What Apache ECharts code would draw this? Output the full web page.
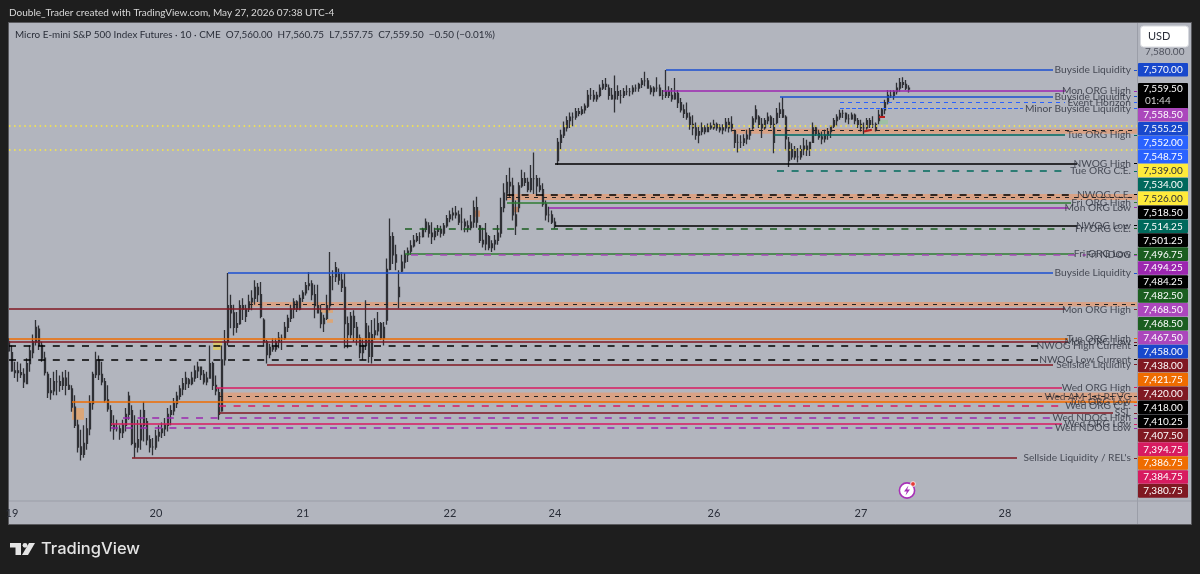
<!DOCTYPE html>
<html>
<head>
<meta charset="utf-8">
<title>MES1! 10m</title>
<style>
  html, body { margin: 0; padding: 0; background: #1e1e1e; }
  #chart { width: 1200px; height: 574px; }
</style>
<script src="https://cdn.jsdelivr.net/npm/echarts@6/dist/echarts.min.js"></script>
</head>
<body>
<div id="chart"></div>
<script>
// 10 minute bars
const opens = [
  7420,7414,7403,7404,7403,7402,7397,7408,7414,7420,
  7427,7418,7411,7402,7392,7393,7398,7398,7396,7400,
  7396,7394,7384,7374,7362,7358,7364,7372,7386,7402,
  7410,7402,7398,7388,7382,7374,7372,7372,7370,7374,
  7380,7382,7364,7362,7366,7374,7376,7366,7362,7362,
  7368,7370,7372,7374,7380,7382,7386,7390,7394,7397,
  7399,7397,7400,7404,7406,7402,7398,7400,7408,7396,
  7392,7382,7410,7420,7440,7436,7428,7430,7440,7438,
  7438,7442,7444,7450,7446,7432,7420,7413,7417,7416,
  7420,7422,7422,7428,7433,7438,7442,7438,7444,7447,
  7451,7452,7446,7440,7436,7430,7433,7440,7456,7456,
  7458,7454,7450,7430,7424,7434,7428,7422,7414,7418,
  7425,7412,7424,7426,7430,7422,7432,7460,7478,7468,
  7450,7459,7464,7468,7470,7473,7476,7478,7478,7482,
  7484,7480,7478,7481,7482,7480,7484,7488,7490,7491,
  7490,7486,7486,7484,7483,7486,7494,7484,7476,7474,
  7478,7472,7474,7476,7480,7494,7502,7508,7506,7490,
  7494,7506,7510,7508,7504,7510,7510,7506,7504,7496,
  7490,7490,7486,7520,7530,7534,7538,7542,7544,7544,
  7547,7546,7548,7550,7556,7556,7554,7556,7560,7562,
  7560,7556,7554,7558,7556,7556,7558,7558,7558,7560,
  7560,7562,7564,7564,7560,7558,7560,7560,7556,7556,
  7558,7556,7554,7557,7552,7548,7546,7544,7540,7538,
  7534,7536,7538,7536,7539,7538,7540,7538,7537,7538,
  7541,7538,7536,7530,7530,7530,7532,7534,7538,7543,
  7544,7540,7538,7542,7544,7540,7541,7546,7548,7544,
  7530,7522,7526,7522,7522,7526,7528,7526,7530,7538,
  7535,7533,7532,7534,7536,7539,7542,7544,7546,7546,
  7543,7543,7545,7542,7540,7538,7538,7542,7540,7540,
  7542,7545,7548,7552,7556,7556,7558,7560,7563,7562,7560
];
const closes = [
  7415,7404,7404,7403,7402,7398,7408,7415,7420,7428,
  7418,7411,7403,7392,7393,7398,7398,7396,7400,7396,
  7394,7384,7374,7362,7358,7364,7372,7386,7402,7410,
  7402,7398,7388,7383,7374,7372,7372,7370,7374,7380,
  7390,7364,7362,7366,7374,7382,7366,7362,7362,7368,
  7370,7372,7374,7380,7382,7386,7390,7394,7397,7400,
  7397,7400,7404,7406,7402,7398,7400,7408,7396,7393,
  7380,7410,7420,7440,7436,7428,7430,7440,7438,7434,
  7442,7444,7450,7446,7434,7420,7413,7417,7416,7420,
  7422,7422,7428,7433,7438,7442,7438,7444,7447,7451,
  7452,7446,7440,7436,7430,7433,7440,7456,7456,7461,
  7454,7450,7430,7424,7434,7428,7422,7414,7418,7430,
  7412,7424,7426,7430,7422,7428,7460,7478,7468,7464,
  7445,7464,7468,7470,7473,7476,7478,7478,7482,7486,
  7480,7478,7481,7482,7480,7484,7488,7490,7491,7490,
  7486,7486,7484,7483,7486,7494,7486,7476,7474,7480,
  7472,7474,7476,7480,7494,7502,7508,7506,7490,7484,
  7506,7510,7508,7504,7510,7510,7506,7504,7496,7490,
  7490,7486,7484,7530,7534,7538,7542,7544,7544,7547,
  7546,7548,7550,7556,7556,7554,7556,7560,7562,7561,
  7556,7554,7558,7556,7556,7558,7558,7558,7560,7560,
  7562,7564,7564,7560,7558,7560,7560,7556,7556,7558,
  7556,7554,7557,7552,7548,7546,7544,7540,7538,7534,
  7536,7538,7536,7539,7538,7540,7538,7537,7538,7541,
  7538,7540,7530,7530,7530,7532,7534,7536,7543,7548,
  7540,7538,7542,7544,7540,7530,7546,7548,7544,7532,
  7520,7526,7522,7522,7526,7528,7526,7530,7538,7535,
  7533,7532,7534,7536,7539,7542,7544,7546,7546,7543,
  7543,7545,7542,7540,7538,7538,7542,7540,7540,7537,
  7545,7548,7552,7556,7556,7558,7560,7563,7562,7560,7559.5
];
const highs = [
  7422,7418,7409,7409,7408,7405.5,7411,7418,7424,7432,
  7429,7420,7414.5,7403.5,7400,7403.5,7404.5,7401.5,7403.5,7404.5,
  7403.5,7396,7390.5,7377,7371.5,7374,7378,7390.5,7403.5,7414.5,
  7412.5,7409,7400,7396,7385,7379.5,7377,7374,7377,7383.5,
  7392.5,7385,7379.5,7377,7382.5,7387,7378,7368.5,7367,7371.5,
  7374,7375.5,7378,7383.5,7385,7389,7392.5,7396,7400,7403.5,
  7400,7403.5,7407,7409,7405.5,7404.5,7403.5,7418,7409,7401.5,
  7394.5,7418,7426.5,7458,7446,7440.5,7436.5,7443,7444,7440.5,
  7446,7448.5,7454,7452.5,7453,7433,7421,7419,7422,7422,
  7425.5,7424,7431,7435,7440.5,7444,7443,7446,7448.5,7453,
  7458.5,7454,7451.5,7451.5,7440.5,7435,7446,7469.5,7459.5,7464,
  7460.5,7458.5,7458,7434,7436.5,7437.5,7431,7424,7422,7443,
  7429,7432,7433,7436.5,7431,7431,7466,7488,7480.5,7473.5,
  7459.5,7468,7470.5,7472,7476,7479,7480,7480.5,7483,7488,
  7486,7486,7483,7484.5,7484,7485.5,7490,7492.5,7494,7495,
  7492.5,7494,7488,7487,7490,7498,7500,7484.5,7483,7485.5,
  7479,7476,7479,7484.5,7499.5,7507.5,7512,7516,7510.5,7498,
  7508,7515,7513.5,7510.5,7517.5,7524.5,7512,7510.5,7507.5,7498,
  7494.5,7492.5,7488.5,7532.5,7537,7541.5,7544.5,7546.5,7546.5,7549,
  7549,7550,7551.5,7559,7560,7559,7558,7562,7564.5,7565.5,
  7562,7560,7567,7561.5,7559,7560,7561.5,7560,7561.5,7562,
  7563,7565.5,7569,7565.5,7561.5,7561,7566,7562,7559,7570,
  7561,7560,7565.5,7559,7554.5,7551,7552,7546.5,7545,7541,
  7539.5,7541,7539.5,7540.5,7541,7542.5,7541,7540,7540,7543.5,
  7543.5,7544.5,7537,7534.5,7534,7534.5,7537,7538,7544.5,7550.5,
  7545,7543.5,7543.5,7546.5,7545,7543.5,7549,7552,7555,7545,
  7533,7529.5,7528,7527,7528.5,7532.5,7531.5,7530,7541,7539.5,
  7537,7536,7537,7538,7539.5,7543.5,7545.5,7548,7548,7546.5,
  7545.5,7546.5,7546,7543.5,7542.5,7541,7543.5,7543.5,7544.5,7541,
  7548,7549,7553.5,7559,7559,7559,7563,7565.5,7566,7564.5,7561.5
];
const lows = [
  7414.5,7403.5,7400,7398,7400,7394.5,7399,7403.5,7411,7418,
  7415.5,7409,7401.5,7389,7388,7390.5,7390.5,7392.5,7393.5,7390.5,
  7393.5,7381.5,7372.5,7359,7354.5,7356,7360.5,7368.5,7382.5,7400,
  7399,7396,7386.5,7381.5,7370.5,7366,7370.5,7366,7367,7370.5,
  7377,7363,7356,7359,7360.5,7365,7363,7359,7357.5,7360.5,
  7365,7367,7368,7370.5,7374,7379.5,7383.5,7388,7390.5,7393.5,
  7394.5,7396,7398,7400,7399,7396.5,7396,7400,7393.5,7390.5,
  7377,7381.5,7407,7418,7427.5,7423.5,7425,7429.5,7432,7431,
  7436.5,7437.5,7440.5,7442,7433,7418,7408,7411,7414.5,7414.5,
  7416.5,7415.5,7421,7425.5,7431,7433,7436.5,7437.5,7442,7445.5,
  7448.5,7443,7433,7437.5,7427.5,7425.5,7432,7437.5,7448.5,7453,
  7451.5,7447.5,7416.5,7416.5,7422,7420,7418,7411,7410,7415.5,
  7408.5,7408,7421,7423.5,7421,7418,7429.5,7459.5,7463,7459.5,
  7438.5,7458.5,7460.5,7464,7468,7472,7475,7474,7477.5,7480.5,
  7477.5,7474,7476,7478.5,7477.5,7478.5,7483,7486,7487,7488,
  7484.5,7481.5,7480.5,7480.5,7481.5,7483,7483,7474.5,7472,7470.5,
  7470.5,7469.5,7470.5,7473.5,7477.5,7491.5,7498,7500,7487,7479,
  7491.5,7505,7506,7502.5,7502.5,7501.5,7500.5,7502.5,7494.5,7487,
  7486,7485,7482.5,7517.5,7526,7532.5,7536,7538,7539,7542.5,
  7544.5,7545,7546,7549,7553.5,7552.5,7552.5,7555,7559,7559,
  7553.5,7553.5,7546.5,7553.5,7551.5,7554.5,7556,7555.5,7556.5,7558,
  7558,7560,7561,7560,7556.5,7555.5,7558,7555.5,7553.5,7554.5,
  7554.5,7552.5,7553.5,7549,7546.5,7543.5,7542.5,7537,7534,7531.5,
  7529.5,7534,7534.5,7536,7537,7537,7536.5,7535.5,7534.5,7536,
  7535.5,7536,7527,7524.5,7527,7528,7529,7531.5,7537,7541,
  7538,7532.5,7537,7540,7538,7524,7540,7543.5,7543.5,7525.5,
  7516.5,7520.5,7520.5,7519,7520.5,7523,7522.5,7522.5,7530,7533.5,
  7531.5,7529,7530,7531.5,7532.5,7538,7539,7542.5,7543.5,7541,
  7540,7542.5,7540,7538,7536,7534.5,7537,7538,7538,7536,
  7540,7543.5,7545.5,7551,7554.5,7553.5,7556.5,7558,7560,7559,7557.5
];

// bar slots of the time axis and the day labels on it
const barCount = 377;
const dayBars = [1, 49, 98, 147, 182, 235, 284, 332];
const dayNames = ['19', '20', '21', '22', '24', '26', '27', '28'];

// drawn levels, from the first bar they start on to the bar where the text begins
const levelNames = ['Buyside Liquidity', 'Mon ORG High', 'Buyside Liquidity', 'Event Horizon', 'Minor Buyside Liquidity',
  'Tue ORG High', 'NWOG High', 'Tue ORG C.E.', 'NWOG C.E.', 'Fri ORG High', 'Mon ORG Low', 'NWOG Low', 'Fri ORG C.E.',
  'Fri ORG Low', 'Fri NDOG', 'Buyside Liquidity', 'Mon ORG High', 'Tue ORG High', 'Mon ORG Low', 'NWOG High Current',
  'NWOG Low Current', 'Sellside Liquidity', 'Wed ORG High', 'Wed AM 1st P.FVG', 'Tue ORG Low', 'Wed ORG C.E.', 'SSL',
  'Wed NDOG High', 'Wed ORG Low', 'Wed NDOG Low', "Sellside Liquidity / REL's"];
const levelPrices = [7570, 7558.5, 7555.25, 7552, 7548.75, 7534, 7518.5, 7514.25, 7501.25, 7496.75, 7494.25, 7484.25, 7482.5,
  7468.5, 7468, 7458, 7438, 7421.75, 7420, 7418, 7410.25, 7407.5, 7394.75, 7389.75, 7386.75, 7384.75, 7380.75,
  7378, 7374.75, 7372.5, 7356];
const levelStarts = [219, 218, 257, 277, 277, 255, 182, 256, 166, 166, 180, 182, 132, 132, 134, 73, 0, 0, 0, 0, 0, 86, 69, 348, 21, 70, 70, 38, 34, 34, 41];
const levelEnds = [348, 352, 348, 352, 338, 352, 356, 351, 354, 354, 353, 356, 352, 355, 359, 348, 352, 353, 353, 345, 345, 348, 351, 348, 376, 350, 368, 349, 351, 349, 336];
const levelColors = ['#1a4fd0', '#9c27b0', '#1a4fd0', '#2962ff', '#2962ff', '#00695c', '#000000', '#00695c', '#000000', '#2e7d32',
  '#9c27b0', '#000000', '#1b5e20', '#2e7d32', '#ab47bc', '#1a4fd0', '#801922', '#ef6c00', '#801922', '#000000', '#000000',
  '#801922', '#d81b60', '#222222', '#ef6c00', '#d81b60', '#801922', '#9c27b0', '#d81b60', '#9c27b0', '#801922'];
const levelDashed = [0, 0, 0, 1, 0, 0, 0, 1, 1, 0, 0, 0, 1, 0, 1, 0, 0, 0, 0, 1, 1, 0, 0, 1, 0, 1, 0, 1, 0, 1, 0];

const dottedPrices = [7539, 7526];

// peach imbalance bands [start bar, top price, bottom price] with their dashed middle
const bandBars = [241, 166, 80, 70];
const bandTops = [7537.5, 7501.5, 7442, 7392];
const bandBottoms = [7534.75, 7498.3, 7439.5, 7386.5];
const bandMids = [7537, 7500, 7440.75, 7389.75];

// small boxes on the candles
const boxFrom = [68, 21, 104, 106, 155, 168, 290];
const boxTo = [71, 25, 108, 108, 157, 170, 293];
const boxTops = [7421, 7383.5, 7437.5, 7432.5, 7492.5, 7494.5, 7542.5];
const boxBottoms = [7415.5, 7377, 7436, 7430.5, 7489, 7491.5, 7540];
const boxColors = ['#d8c870', '#dba678', '#dba678', '#dba678', '#c98d6c', '#c98d6c', '#9fc0a4'];

// price tags on the scale, top to bottom
const tagPrices = ['7,558.50', '7,555.25', '7,552.00', '7,548.75', '7,539.00', '7,534.00', '7,526.00', '7,518.50', '7,514.25',
  '7,501.25', '7,496.75', '7,494.25', '7,484.25', '7,482.50', '7,468.50', '7,468.50', '7,467.50', '7,458.00', '7,438.00',
  '7,421.75', '7,420.00', '7,418.00', '7,410.25', '7,407.50', '7,394.75', '7,386.75', '7,384.75', '7,380.75'];
const tagColors = ['#ab47bc', '#1848cc', '#2962ff', '#2962ff', '#ffeb3b', '#00695c', '#ffeb3b', '#000000', '#00695c',
  '#000000', '#1b5e20', '#9c27b0', '#000000', '#1b5e20', '#ab47bc', '#1b5e20', '#ab47bc', '#1848cc', '#801922',
  '#ef6c00', '#801922', '#000000', '#000000', '#801922', '#d81b60', '#ef6c00', '#d81b60', '#801922'];

const uiFont = 'Lato, sans-serif';
const chart = echarts.init(document.getElementById('chart'));

// one series value per bar, the rest of the axis stays empty
const categories = [];
for (let i = 0; i < barCount; i++) categories.push(String(i));
const candles = opens.map((o, i) => [o, closes[i], lows[i], highs[i]]);

// level lines plus the short stub next to the scale
const lineData = [];
levelPrices.forEach((p, i) => {
  const style = {
    color: levelColors[i],
    width: levelDashed[i] ? 1.6 : 1.6,
    type: levelDashed[i] ? [7, 7.6] : 'solid'
  };
  lineData.push([{ coord: [levelStarts[i], p], lineStyle: style }, { coord: [levelEnds[i], p] }]);
  lineData.push([{ coord: [375, p], lineStyle: { color: levelColors[i], width: 1 } }, { coord: [376, p] }]);
});
// the two thin blue ones
lineData[6][0].lineStyle = { color: '#2962ff', width: 1, type: [4, 4] };
lineData[8][0].lineStyle = { color: '#2962ff', width: 1 };
dottedPrices.forEach(p => {
  lineData.push([{ coord: [0, p], lineStyle: { color: '#ffeb3b', width: 1.5, type: [1.5, 3.6] } }, { coord: [376, p] }]);
});
bandMids.forEach((p, i) => {
  lineData.push([{ coord: [bandBars[i], p], lineStyle: { color: '#222222', width: 1, type: [4, 5] } }, { coord: [376, p] }]);
});
// red trend stroke under the last leg
lineData.push([{ coord: [285, 7536], lineStyle: { color: '#b71c1c', width: 2 } }, { coord: [289, 7537.5] }]);
lineData.push([{ coord: [290, 7544], lineStyle: { color: '#b71c1c', width: 2 } }, { coord: [292, 7544] }]);

const areaData = [];
bandBars.forEach((b, i) => {
  areaData.push([{ coord: [b, bandTops[i]], itemStyle: { color: '#d9a285' } }, { coord: [376, bandBottoms[i]] }]);
});
boxFrom.forEach((b, i) => {
  areaData.push([{ coord: [b, boxTops[i]], itemStyle: { color: boxColors[i] } }, { coord: [boxTo[i], boxBottoms[i]] }]);
});

// overlay: frame, header, logo, scale tags
const graphics = [
  { type: 'rect', z: -1, shape: { x: 8.5, y: 22.5, width: 1183, height: 502 }, style: { fill: '#b2b5be', stroke: '#5a5a5e', lineWidth: 1 } },
  { type: 'line', z: 1, shape: { x1: 9, y1: 501, x2: 1191, y2: 501 }, style: { stroke: '#9b9ea8', lineWidth: 1 } },
  { type: 'line', z: 1, shape: { x1: 1137.5, y1: 23, x2: 1137.5, y2: 524 }, style: { stroke: '#9b9ea8', lineWidth: 1 } },
  { type: 'text', z: 50, style: { x: 9, y: 13, text: 'Double_Trader created with TradingView.com, May 27, 2026 07:38 UTC-4', font: '10px ' + uiFont, fill: '#d8d8d8', verticalAlign: 'middle' } },
  { type: 'text', z: 50, style: { x: 15, y: 35, text: 'Micro E-mini S&P 500 Index Futures · 10 · CME  O7,560.00  H7,560.75  L7,557.75  C7,559.50  −0.50 (−0.01%)', font: '9.9px ' + uiFont, fill: '#2a2e39', verticalAlign: 'middle' } },
  { type: 'rect', z: 50, shape: { x: 1140.5, y: 26, width: 48, height: 21, r: 3 }, style: { fill: '#ffffff', stroke: '#d6d8de' } },
  { type: 'text', z: 51, style: { x: 1148, y: 36.5, text: 'USD', font: '11px ' + uiFont, fill: '#2a2e39', verticalAlign: 'middle' } },
  // TradingView mark
  { type: 'polygon', z: 50, shape: { points: [[10, 543], [21, 543], [21, 555], [15.5, 555], [15.5, 547.5], [10, 547.5]] }, style: { fill: '#e4e4e4' } },
  { type: 'circle', z: 50, shape: { cx: 25, cy: 545.3, r: 2.4 }, style: { fill: '#e4e4e4' } },
  { type: 'polygon', z: 50, shape: { points: [[29, 543], [35, 543], [28, 555], [22, 555]] }, style: { fill: '#e4e4e4' } },
  { type: 'text', z: 50, style: { x: 41, y: 549.5, text: 'TradingView', font: '500 16.5px Inter, sans-serif', fill: '#e4e4e4', verticalAlign: 'middle' } },
  // flash badge
  { type: 'circle', z: 50, shape: { cx: 907, cy: 490.5, r: 7.6 }, style: { fill: '#ffffff', stroke: '#a832b8', lineWidth: 1.6 } },
  { type: 'polygon', z: 51, shape: { points: [[908.5, 485.5], [904, 491.5], [906.8, 491.5], [905.5, 495.5], [910, 489.5], [907.2, 489.5]] }, style: { fill: '#a832b8' } },
  { type: 'circle', z: 51, shape: { cx: 913, cy: 484, r: 2.4 }, style: { fill: '#e53935', stroke: '#ffffff', lineWidth: 0.8 } }
];

function addTag(cy, text, fill, ink) {
  graphics.push({ type: 'rect', z: 50, shape: { x: 1138, y: cy - 7, width: 50, height: 13.6, r: 1 }, style: { fill: fill } });
  graphics.push({ type: 'text', z: 51, style: { x: 1163, y: cy, text: text, font: '10px ' + uiFont, fill: ink, align: 'center', verticalAlign: 'middle' } });
}
addTag(70, '7,570.00', '#1848cc', '#ffffff');
graphics.push({ type: 'rect', z: 50, shape: { x: 1138, y: 83, width: 50, height: 26, r: 1 }, style: { fill: '#000000' } });
graphics.push({ type: 'text', z: 51, style: { x: 1163, y: 89, text: '7,559.50', font: '10px ' + uiFont, fill: '#ffffff', align: 'center', verticalAlign: 'middle' } });
graphics.push({ type: 'text', z: 51, style: { x: 1145, y: 101, text: '01:44', font: '10px ' + uiFont, fill: '#d0d0d0', verticalAlign: 'middle' } });
tagPrices.forEach((t, i) => {
  addTag(115 + i * 13.93, t, tagColors[i], tagColors[i] === '#ffeb3b' ? '#2a2e39' : '#ffffff');
});

chart.setOption({
  animation: false,
  backgroundColor: '#1e1e1e',
  textStyle: { fontFamily: uiFont },
  graphic: graphics,
  grid: { left: 9, top: 23, right: 63, bottom: 73, containLabel: false },
  xAxis: {
    type: 'category',
    data: categories,
    boundaryGap: false,
    axisLine: { show: false },
    axisTick: { show: false },
    splitLine: { show: false },
    axisLabel: {
      color: '#2a2e39',
      fontSize: 11,
      margin: 7,
      interval: (i) => dayBars.includes(i),
      formatter: (v, i) => dayNames[dayBars.indexOf(i)] || ''
    }
  },
  yAxis: {
    type: 'value',
    position: 'right',
    min: 7332.2,
    max: 7595.9,
    axisLine: { show: false },
    axisTick: { show: false },
    splitLine: { show: false },
    axisLabel: {
      color: '#50535e',
      fontSize: 10,
      margin: 8,
      customValues: [7580],
      formatter: (v) => v.toLocaleString('en-US', { minimumFractionDigits: 2 })
    }
  },
  series: [
    {
      name: 'MES1!',
      type: 'candlestick',
      data: candles,
      barWidth: 2.2,
      z: 3,
      itemStyle: {
        color: '#55565c',
        color0: '#3a3b40',
        borderColor: '#2f3035',
        borderColor0: '#2f3035',
        borderWidth: 1.3
      }
    },
    {
      // level names sit left of the scale, the lines and bands hang off this series
      name: 'Levels',
      type: 'scatter',
      symbolSize: 0,
      z: 4,
      silent: true,
      data: levelPrices.map((p, i) => ({ value: [374, p], name: levelNames[i] })),
      label: {
        show: true,
        position: 'left',
        distance: 0,
        color: '#2a2e39',
        fontSize: 10.2,
        formatter: (d) => d.name
      },
      markLine: { silent: true, symbol: 'none', label: { show: false }, data: lineData, z: 4 },
      markArea: { silent: true, data: areaData, z: 2 }
    }
  ]
});
</script>
</body>
</html>
